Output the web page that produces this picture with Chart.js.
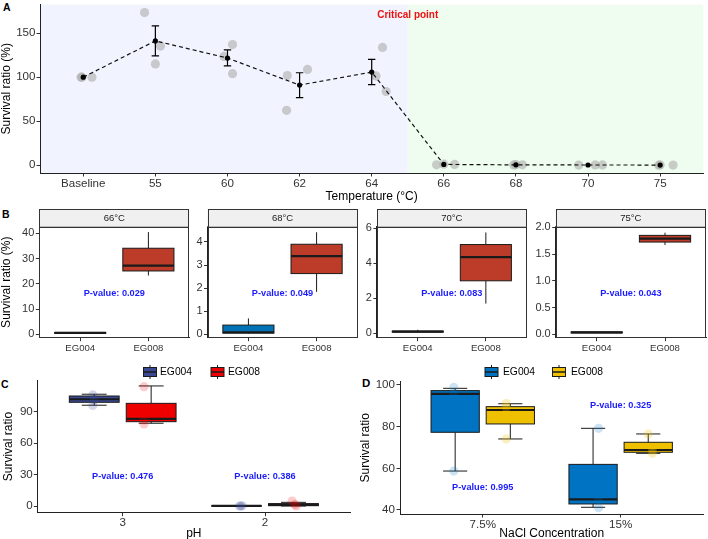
<!DOCTYPE html>
<html>
<head>
<meta charset="utf-8">
<script src="https://cdn.jsdelivr.net/npm/chart.js@4.4.0/dist/chart.umd.min.js"></script>
<style>
html, body { margin: 0; padding: 0; background: #fff; overflow: hidden; }
body { width: 708px; height: 539px; position: relative; font-family: "Liberation Sans", Arial, sans-serif; }
canvas { position: absolute; }
.tag { position: absolute; font-weight: bold; color: #000; line-height: 1; }
</style>
</head>
<body>
<div class="tag" style="left:3px;top:1.5px;font-size:10.5px">A</div>
<div class="tag" style="left:2px;top:208.5px;font-size:10.5px">B</div>
<div class="tag" style="left:1px;top:378.5px;font-size:10.5px">C</div>
<div class="tag" style="left:362px;top:377.5px;font-size:11.5px">D</div>
<script>
// ---------- A: temperature series ----------
const tempLabels = ['Baseline', '55', '60', '62', '64', '66', '68', '70', '75'];
const tempMean = [100, 141.2, 121.7, 91, 105.8, 0.9, 0.4, 0.25, 0.2];
const tempLow = [100, 124.2, 112.8, 76.7, 91.5, 0.5, 0.2, 0.2, 0.1];
const tempHigh = [100, 158.2, 130.9, 105, 120.2, 1.3, 0.6, 0.3, 0.3];
const tempReps = [
    [100, 100, 100], [173.3, 135.3, 115], [137, 123.5, 104], [101.8, 108.8, 62.3], [133.8, 101.4, 83.7],
    [0.5, 1.2, 0.9], [0.3, 0.6, 0.4], [0.2, 0.3, 0.3], [0.1, 0.3, 0.2]
];
const tempJitter = [
    [-0.03, -0.02, 0.12], [-0.15, 0.07, 0], [0.07, -0.05, 0.07], [-0.17, 0.11, -0.18], [0.15, 0.06, 0.2],
    [-0.1, 0, 0.15], [-0.03, 0, 0.09], [-0.13, 0.1, 0.2], [-0.02, 0, 0.18]
];
const tempTicks = [0, 50, 100, 150];
const critPoint = 5.5; // between 64 and 66

// ---------- B: heat facets, [min, q1, median, q3, max] ----------
const heatFacets = ['66°C', '68°C', '70°C', '75°C'];
const strains = ['EG004', 'EG008'];
const heatEG004 = [[0.2, 0.35, 0.55, 0.75, 0.9], [0.02, 0.05, 0.09, 0.4, 0.69], [0.05, 0.07, 0.1, 0.13, 0.2], [0.02, 0.025, 0.035, 0.045, 0.05]];
const heatEG008 = [[23.3, 25.1, 27.2, 34.1, 40.5], [1.84, 2.63, 3.39, 3.9, 4.42], [1.7, 3.0, 4.35, 5.07, 5.76], [1.67, 1.725, 1.79, 1.85, 1.9]];
const heatP = ['0.029', '0.049', '0.083', '0.043'];
const heatPY = [16.3, 1.78, 2.29, 0.766];
const heatRange = [[-1.33, 42.63], [-0.146, 4.66], [-0.25, 6.09], [-0.063, 2.012]];
const heatTicks = [[0, 10, 20, 30, 40], [0, 1, 2, 3, 4], [0, 2, 4, 6], [0, 0.5, 1, 1.5, 2]];

// ---------- C: pH ----------
const phLabels = ['3', '2'];
const phEG004 = [[96.2, 99, 101.9, 105, 106.7], [0, 0, 0.1, 0.2, 0.3]];
const phEG008 = [[79, 80.5, 83.1, 98, 114.6], [0, 0.3, 1.0, 2.3, 3.5]];
const phPts004 = [[106, 101.5, 96], [0, 0, 0.2]];
const phPts008 = [[113.9, 82.1, 78.3], [4.8, 1.5, 0]];
const phJit004 = [[-0.01, 0, -0.01], [0.03, 0.02, 0.04]];
const phJit008 = [[-0.05, -0.05, -0.05], [-0.01, 0.01, 0.02]];
const phP = ['0.476', '0.386'];
const phPY = [28, 28];
const phTicks = [0, 30, 60, 90];

// ---------- D: NaCl ----------
const naclLabels = ['7.5%', '15%'];
const naclEG004 = [[58.7, 77.3, 95.7, 97.3, 98.4], [41.3, 42.9, 45.1, 61.9, 79.2]];
const naclEG008 = [[74.1, 81.3, 88, 89.6, 91], [67.2, 67.7, 68.8, 72.5, 76.5]];
const naclPts004 = [[98.9, 95.7, 58.7], [79.2, 45.1, 41.1]];
const naclPts008 = [[91.2, 89.3, 74.1], [76.5, 68.8, 67.2]];
const naclJit004 = [[-0.01, -0.01, -0.01], [0.04, 0.04, 0.04]];
const naclJit008 = [[-0.03, -0.03, -0.03], [0, 0.03, 0.03]];
const naclP = ['0.995', '0.325'];
const naclPY = [50.9, 90.4];
const naclTicks = [40, 60, 80, 100];

const FONT = '"Liberation Sans", Arial, sans-serif';
Chart.defaults.font.family = FONT;
Chart.defaults.color = '#333';

// canvas placed at box (page px), plot area fixed at area (page px)
function panel(box, area, cfg) {
    const cv = document.createElement('canvas');
    cv.width = box.w;
    cv.height = box.h;
    cv.style.left = box.x + 'px';
    cv.style.top = box.y + 'px';
    document.body.appendChild(cv);
    const o = cfg.options;
    o.responsive = false;
    o.animation = false;
    o.devicePixelRatio = 1;
    o.events = [];
    o.layout = {padding: {left: 0, bottom: 0, top: area.t - box.y, right: box.x + box.w - area.r}};
    o.plugins = {legend: {display: false}, tooltip: {enabled: false}};
    o.scales.x.afterFit = s => { s.height = box.y + box.h - area.b; s.paddingLeft = 0; s.paddingRight = 0; };
    o.scales.y.afterFit = s => { s.width = area.l - box.x; s.paddingTop = 0; s.paddingBottom = 0; };
    return new Chart(cv, cfg);
}

function catAxis(labels, title, size, pad) {
    return {
        type: 'linear', min: 0.4, max: labels.length + 0.6,
        afterBuildTicks: s => { s.ticks = labels.map((l, i) => ({value: i + 1})); },
        ticks: {callback: v => labels[v - 1], autoSkip: false, maxRotation: 0, padding: pad, color: '#333', font: {size: size}},
        grid: {drawOnChartArea: false, tickLength: 3.5, color: '#333'},
        border: {color: '#222', width: 1},
        title: {display: !!title, text: title, color: '#000', padding: 0, font: {size: 12}}
    };
}

function valAxis(min, max, ticks, title, size, pad, fmt) {
    return {
        type: 'linear', min: min, max: max,
        afterBuildTicks: s => { s.ticks = ticks.map(v => ({value: v})); },
        ticks: {callback: fmt || (v => v), padding: pad, color: '#333', font: {size: size}},
        grid: {drawOnChartArea: false, tickLength: 3.5, color: '#333'},
        border: {color: '#222', width: 1},
        title: {display: !!title, text: title, color: '#000', padding: 0, font: {size: 12}}
    };
}

// boxplots + p-value labels drawn through the chart's scales
function boxPlugin(series, width, capWidth, pTexts, pY) {
    return {
        id: 'boxes',
        beforeDatasetsDraw(chart) {
            const {ctx, scales: {x, y}} = chart;
            series.forEach(s => s.stats.forEach((st, i) => {
                const xc = i + 1 + s.shift;
                const l = x.getPixelForValue(xc - width / 2);
                const r = x.getPixelForValue(xc + width / 2);
                const m = x.getPixelForValue(xc);
                const [mn, q1, md, q3, mx] = st.map(v => y.getPixelForValue(v));
                ctx.save();
                ctx.strokeStyle = '#1a1a1a';
                ctx.lineWidth = 1;
                ctx.beginPath();
                ctx.moveTo(m, q3); ctx.lineTo(m, mx);
                ctx.moveTo(m, q1); ctx.lineTo(m, mn);
                if (capWidth) {
                    const cl = x.getPixelForValue(xc - capWidth / 2);
                    const cr = x.getPixelForValue(xc + capWidth / 2);
                    ctx.moveTo(cl, mx); ctx.lineTo(cr, mx);
                    ctx.moveTo(cl, mn); ctx.lineTo(cr, mn);
                }
                ctx.stroke();
                ctx.fillStyle = s.color;
                ctx.fillRect(l, q3, r - l, q1 - q3);
                ctx.strokeRect(l, q3, r - l, q1 - q3);
                ctx.lineWidth = 2.2;
                ctx.beginPath();
                ctx.moveTo(l, md); ctx.lineTo(r, md);
                ctx.stroke();
                ctx.restore();
            }));
        },
        afterDatasetsDraw(chart) {
            const {ctx, scales: {x, y}} = chart;
            ctx.save();
            ctx.fillStyle = '#1b1bff';
            ctx.font = 'bold 9.2px ' + FONT;
            ctx.textAlign = 'center';
            ctx.textBaseline = 'middle';
            pTexts.forEach((t, i) => {
                const xv = pTexts.length === 1 ? 1.5 : i + 1;
                ctx.fillText('P-value: ' + t, x.getPixelForValue(xv), y.getPixelForValue(pY[i]));
            });
            ctx.restore();
        }
    };
}

function legendPlugin(box, cy, items) {
    return {
        id: 'boxLegend',
        afterDraw(chart) {
            const ctx = chart.ctx;
            const y = cy - box.y;
            ctx.save();
            items.forEach(it => {
                const gx = it.gx - box.x;
                ctx.strokeStyle = '#1a1a1a';
                ctx.lineWidth = 1;
                ctx.beginPath();
                ctx.moveTo(gx + 6.5, y - 7); ctx.lineTo(gx + 6.5, y + 7);
                ctx.stroke();
                ctx.fillStyle = it.color;
                ctx.fillRect(gx, y - 4.5, 13, 9);
                ctx.strokeRect(gx, y - 4.5, 13, 9);
                ctx.lineWidth = 1.5;
                ctx.beginPath();
                ctx.moveTo(gx, y); ctx.lineTo(gx + 13, y);
                ctx.stroke();
                ctx.fillStyle = '#000';
                ctx.font = '10.3px ' + FONT;
                ctx.textBaseline = 'middle';
                ctx.fillText(it.text, it.tx - box.x, y + 0.5);
            });
            ctx.restore();
        }
    };
}

function dodgePoints(pts, jit, shift) {
    const out = [];
    pts.forEach((g, i) => g.forEach((v, j) => out.push({x: i + 1 + shift + jit[i][j], y: v})));
    return out;
}

// ---------- panel A ----------
const repPoints = [];
tempReps.forEach((r, i) => r.forEach((v, j) => repPoints.push({x: i + 1 + tempJitter[i][j], y: v})));
const meanPoints = tempMean.map((v, i) => ({x: i + 1, y: v}));

const shadePlugin = {
    id: 'shade',
    beforeDraw(chart) {
        const {ctx, chartArea: a, scales: {x}} = chart;
        const cx = x.getPixelForValue(critPoint);
        ctx.save();
        ctx.fillStyle = '#f1f4fe';
        ctx.fillRect(a.left, a.top, cx - a.left, a.bottom - a.top);
        ctx.fillStyle = '#effdf0';
        ctx.fillRect(cx, a.top, a.right - cx, a.bottom - a.top);
        ctx.restore();
    },
    afterDraw(chart) {
        const {ctx, chartArea: a, scales: {x}} = chart;
        ctx.save();
        ctx.fillStyle = '#ee1111';
        ctx.font = 'bold 10px ' + FONT;
        ctx.textAlign = 'center';
        ctx.textBaseline = 'middle';
        ctx.fillText('Critical point', x.getPixelForValue(critPoint), a.top + 10.5);
        ctx.restore();
    }
};

const errPlugin = {
    id: 'errbars',
    afterDatasetsDraw(chart) {
        const {ctx, scales: {x, y}} = chart;
        ctx.save();
        ctx.strokeStyle = '#000';
        ctx.lineWidth = 1.2;
        tempMean.forEach((m, i) => {
            if (tempHigh[i] - tempLow[i] < 1) return;
            const px = x.getPixelForValue(i + 1);
            const lo = y.getPixelForValue(tempLow[i]);
            const hi = y.getPixelForValue(tempHigh[i]);
            ctx.beginPath();
            ctx.moveTo(px, lo); ctx.lineTo(px, hi);
            ctx.moveTo(px - 3.7, lo); ctx.lineTo(px + 3.7, lo);
            ctx.moveTo(px - 3.7, hi); ctx.lineTo(px + 3.7, hi);
            ctx.stroke();
        });
        ctx.restore();
    }
};

panel({x: -1, y: 0, w: 709, h: 204}, {l: 40, t: 0, r: 707, b: 173}, {
    type: 'scatter',
    data: {
        datasets: [
            {data: meanPoints, showLine: true, borderColor: '#111', borderWidth: 1.2, borderDash: [4, 3],
                pointRadius: 2.6, backgroundColor: '#000', pointBorderWidth: 0},
            {data: repPoints, pointRadius: 4.6, backgroundColor: 'rgba(172,172,172,0.6)', pointBorderWidth: 0}
        ]
    },
    options: {
        scales: {
            x: catAxis(tempLabels, 'Temperature (°C)', 11.6, 0),
            y: valAxis(-8.84, 182.4, tempTicks, 'Survival ratio (%)', 11.6, 1)
        }
    },
    plugins: [shadePlugin, errPlugin]
});

// ---------- panel B ----------
const facetAreas = [[39.3, 189.3], [207.5, 357.5], [376.9, 526.7], [555.7, 706]];
const facetBoxX = [-1, 190, 359, 530];
const facetBoxW = [191, 169, 169, 178];

heatFacets.forEach((name, f) => {
    const box = {x: facetBoxX[f], y: 205, w: facetBoxW[f], h: 153};
    const area = {l: facetAreas[f][0], t: 226.7, r: facetAreas[f][1], b: 337.7};
    const stripPlugin = {
        id: 'strip',
        afterDraw(chart) {
            const {ctx, chartArea: a} = chart;
            ctx.save();
            ctx.fillStyle = '#f0f0f0';
            ctx.fillRect(a.left, a.top - 17.7, a.right - a.left, 17.7);
            ctx.strokeStyle = '#333';
            ctx.lineWidth = 1;
            ctx.strokeRect(Math.round(a.left) + 0.5, Math.round(a.top - 17.7) + 0.5, Math.round(a.right - a.left) - 1, 17.7);
            ctx.strokeRect(Math.round(a.left) + 0.5, Math.round(a.top) + 0.5, Math.round(a.right - a.left) - 1, Math.round(a.bottom - a.top) - 1);
            ctx.fillStyle = '#1a1a1a';
            ctx.font = '9.5px ' + FONT;
            ctx.textAlign = 'center';
            ctx.textBaseline = 'middle';
            ctx.fillText(name, (a.left + a.right) / 2, a.top - 8.6);
            ctx.restore();
        }
    };
    const fmt = f === 3 ? (v => v.toFixed(1)) : null;
    panel(box, area, {
        type: 'scatter',
        data: {datasets: []},
        options: {
            scales: {
                x: catAxis(strains, '', 9.6, 1.5),
                y: valAxis(heatRange[f][0], heatRange[f][1], heatTicks[f], f === 0 ? 'Survival ratio (%)' : '', 11, 1.5, fmt)
            }
        },
        plugins: [
            boxPlugin([
                {stats: [heatEG004[f]], shift: 0, color: '#0072b5'},
                {stats: [heatEG008[f]], shift: 1, color: '#bc3c29'}
            ], 0.75, 0, [heatP[f]], [heatPY[f]]),
            stripPlugin
        ]
    });
});

// ---------- panel C ----------
const boxC = {x: 1, y: 360, w: 354, h: 181};
panel(boxC, {l: 37.3, t: 380.5, r: 352.7, b: 512.7}, {
    type: 'scatter',
    data: {
        datasets: [
            {data: dodgePoints(phPts004, phJit004, -0.2), pointRadius: 4.6, backgroundColor: 'rgba(59,73,146,0.22)', pointBorderWidth: 0},
            {data: dodgePoints(phPts008, phJit008, 0.2), pointRadius: 4.6, backgroundColor: 'rgba(238,0,0,0.2)', pointBorderWidth: 0}
        ]
    },
    options: {
        scales: {
            x: catAxis(phLabels, 'pH', 11.6, 0),
            y: valAxis(-6.39, 119.8, phTicks, 'Survival ratio', 11.6, 1)
        }
    },
    plugins: [
        boxPlugin([
            {stats: phEG004, shift: -0.2, color: '#3b4992'},
            {stats: phEG008, shift: 0.2, color: '#ee0000'}
        ], 0.35, 0.175, phP, phPY),
        legendPlugin(boxC, 372, [
            {text: 'EG004', color: '#3b4992', gx: 143.5, tx: 160},
            {text: 'EG008', color: '#ee0000', gx: 211, tx: 228}
        ])
    ]
});

// ---------- panel D ----------
const boxD = {x: 358, y: 360, w: 350, h: 181};
panel(boxD, {l: 400, t: 381.7, r: 707, b: 514}, {
    type: 'scatter',
    data: {
        datasets: [
            {data: dodgePoints(naclPts004, naclJit004, -0.2), pointRadius: 4.6, backgroundColor: 'rgba(0,115,194,0.2)', pointBorderWidth: 0},
            {data: dodgePoints(naclPts008, naclJit008, 0.2), pointRadius: 4.6, backgroundColor: 'rgba(239,192,0,0.25)', pointBorderWidth: 0}
        ]
    },
    options: {
        scales: {
            x: catAxis(naclLabels, 'NaCl Concentration', 11.6, 0),
            y: valAxis(38.08, 101.58, naclTicks, 'Survival ratio', 11.6, 1.5)
        }
    },
    plugins: [
        boxPlugin([
            {stats: naclEG004, shift: -0.2, color: '#0073c2'},
            {stats: naclEG008, shift: 0.2, color: '#efc000'}
        ], 0.35, 0.175, naclP, naclPY),
        legendPlugin(boxD, 372, [
            {text: 'EG004', color: '#0073c2', gx: 485, tx: 503},
            {text: 'EG008', color: '#efc000', gx: 552.5, tx: 571}
        ])
    ]
});
</script>
</body>
</html>
